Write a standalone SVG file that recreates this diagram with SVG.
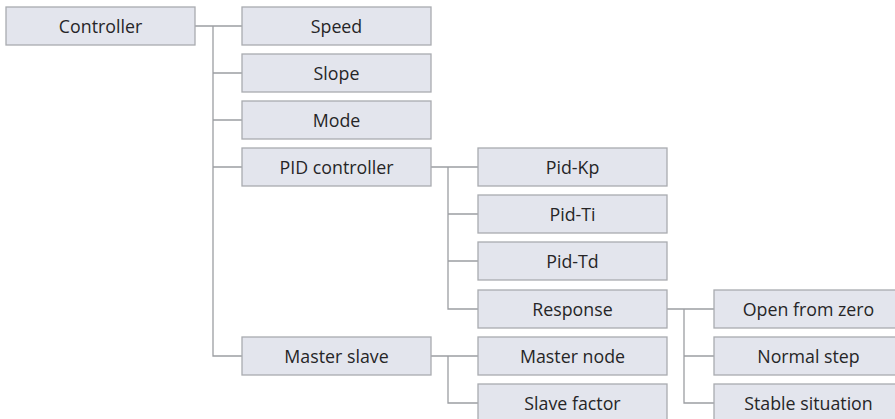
<svg xmlns="http://www.w3.org/2000/svg" width="895" height="419" viewBox="0 0 895 419">
<style>
.box{fill:#e3e5ed;stroke:#a9abb0;stroke-width:1.3}
.lbl{font-family:"Open Sans","DejaVu Sans",sans-serif;font-size:17.8px;fill:#262527;text-anchor:middle;dominant-baseline:central}
.ln{fill:none;stroke:#9c9ea2;stroke-width:1.3}
</style>
<rect width="895" height="419" fill="#ffffff"/>
<g id="connectors">
<path class="ln" d="M195,26H242M213,26V356H242M213,73H242M213,120H242M213,167H242"/>
<path class="ln" d="M431,167H478M448,167V309H478M448,214H478M448,261H478"/>
<path class="ln" d="M431,356H478M448,356V403H478"/>
<path class="ln" d="M667,309H714M684,309V403H714M684,356H714"/>
</g>
<g id="n-controller"><rect class="box" x="6" y="7" width="189" height="38"/><text class="lbl" x="100.5" y="26">Controller</text></g>
<g id="n-speed"><rect class="box" x="242" y="7" width="189" height="38"/><text class="lbl" x="336.5" y="26">Speed</text></g>
<g id="n-slope"><rect class="box" x="242" y="54" width="189" height="38"/><text class="lbl" x="336.5" y="73">Slope</text></g>
<g id="n-mode"><rect class="box" x="242" y="101" width="189" height="38"/><text class="lbl" x="336.5" y="120">Mode</text></g>
<g id="n-pid"><rect class="box" x="242" y="148" width="189" height="38"/><text class="lbl" x="336.5" y="167">PID controller</text></g>
<g id="n-masterslave"><rect class="box" x="242" y="337" width="189" height="38"/><text class="lbl" x="336.5" y="356">Master slave</text></g>
<g id="n-pidkp"><rect class="box" x="478" y="148" width="189" height="38"/><text class="lbl" x="572.5" y="167">Pid-Kp</text></g>
<g id="n-pidti"><rect class="box" x="478" y="195" width="189" height="38"/><text class="lbl" x="572.5" y="214">Pid-Ti</text></g>
<g id="n-pidtd"><rect class="box" x="478" y="242" width="189" height="38"/><text class="lbl" x="572.5" y="261">Pid-Td</text></g>
<g id="n-response"><rect class="box" x="478" y="290" width="189" height="38"/><text class="lbl" x="572.5" y="309">Response</text></g>
<g id="n-masternode"><rect class="box" x="478" y="337" width="189" height="38"/><text class="lbl" x="572.5" y="356">Master node</text></g>
<g id="n-slavefactor"><rect class="box" x="478" y="384" width="189" height="38"/><text class="lbl" x="572.5" y="403">Slave factor</text></g>
<g id="n-openzero"><rect class="box" x="714" y="290" width="189" height="38"/><text class="lbl" x="808.5" y="309">Open from zero</text></g>
<g id="n-normalstep"><rect class="box" x="714" y="337" width="189" height="38"/><text class="lbl" x="808.5" y="356">Normal step</text></g>
<g id="n-stable"><rect class="box" x="714" y="384" width="189" height="38"/><text class="lbl" x="808.5" y="403">Stable situation</text></g>
</svg>
